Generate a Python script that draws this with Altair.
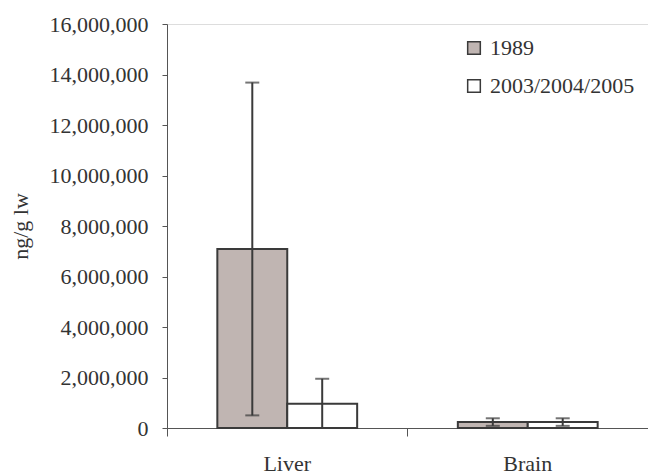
import altair as alt
import pandas as pd

# Tissue concentrations (ng/g lipid weight), mean and standard deviation
organs = ["Liver", "Liver", "Brain", "Brain"]
periods = ["1989", "2003/2004/2005", "1989", "2003/2004/2005"]
means = [7090000, 960000, 235000, 235000]
sds = [6590000, 990000, 150000, 150000]

df = pd.DataFrame({"organ": organs, "period": periods, "mean": means, "sd": sds})
df["upper"] = df["mean"] + df["sd"]
df["lower"] = (df["mean"] - df["sd"]).clip(lower=0)

FONT = "'Times New Roman', 'Liberation Serif', Times, serif"
DARK = "#3a3a3a"

x_enc = alt.X(
    "organ:N",
    sort=["Liver", "Brain"],
    title=None,
    scale=alt.Scale(paddingInner=0, paddingOuter=0),
    axis=alt.Axis(
        labelAngle=0,
        labelFontSize=22,
        labelFont=FONT,
        labelColor="#333333",
        labelPadding=17,
        tickSize=8,
        tickColor="#555555",
        domainColor="#555555",
        bandPosition=0,
        ticks=True,
    ),
)
xoff = alt.XOffset(
    "period:N",
    sort=periods[:2],
    scale=alt.Scale(paddingInner=0, paddingOuter=0.72),
)

bars = alt.Chart(df).mark_bar(stroke=DARK, strokeWidth=2).encode(
    x=x_enc,
    xOffset=xoff,
    y=alt.Y(
        "mean:Q",
        title="ng/g lw",
        scale=alt.Scale(domain=[0, 16000000]),
        axis=alt.Axis(
            values=list(range(0, 16000001, 2000000)),
            format=",d",
            grid=False,
            labelFontSize=22,
            labelFont=FONT,
            labelColor="#333333",
            titleFont=FONT,
            titleFontSize=22,
            titleFontWeight="normal",
            titleColor="#333333",
            titlePadding=17,
            tickSize=5,
            tickColor="#555555",
            domainColor="#555555",
            labelPadding=14,
        ),
    ),
    fill=alt.Fill(
        "period:N",
        sort=periods[:2],
        scale=alt.Scale(domain=periods[:2], range=["#c0b5b2", "#ffffff"]),
        legend=alt.Legend(
            title=None,
            orient="none",
            legendX=296,
            legendY=13,
            symbolType="square",
            symbolSize=160,
            symbolStrokeColor=DARK,
            symbolStrokeWidth=1.5,
            labelFont=FONT,
            labelFontSize=22,
            labelColor="#333333",
            rowPadding=16,
            labelOffset=5,
        ),
    ),
)

whisker = alt.Chart(df).mark_rule(color=DARK, strokeWidth=2).encode(
    x=x_enc, xOffset=xoff, y="lower:Q", y2="upper:Q"
)
cap_top = alt.Chart(df).mark_tick(color=DARK, thickness=2, size=14).encode(
    x=x_enc, xOffset=xoff, y="upper:Q"
)
cap_bottom = alt.Chart(df).mark_tick(color=DARK, thickness=2, size=14).encode(
    x=x_enc, xOffset=xoff, y="lower:Q"
)

chart = (
    alt.layer(bars, whisker, cap_top, cap_bottom)
    .properties(
        width=481,
        height=404,
        autosize=alt.AutoSizeParams(type="none"),
        padding={"left": 167, "top": 24, "right": 0, "bottom": 46},
    )
    .configure_view(stroke=None)
    .configure(background="white")
)

chart.save("out.html", embed_options={"renderer": "svg", "actions": False})
